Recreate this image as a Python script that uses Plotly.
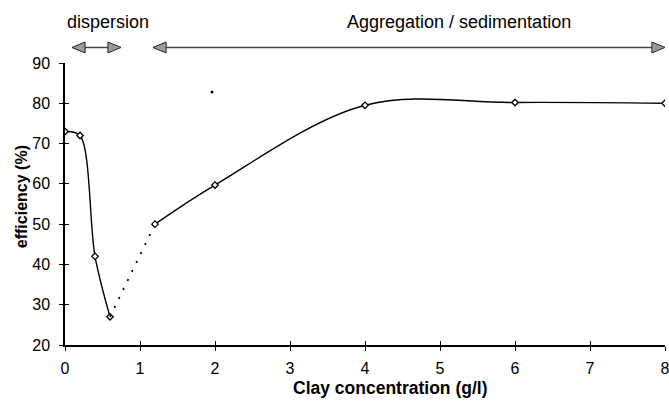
import plotly.graph_objects as go

# Efficiency vs clay concentration
x_dispersion = [0, 0.2, 0.4, 0.6]
y_dispersion = [73, 72, 42, 27]

x_transition = [0.6, 1.2]
y_transition = [27, 50]

x_aggregation = [1.2, 2, 4, 6, 8]
y_aggregation = [50, 59.7, 79.5, 80.2, 80]

x_isolated = [1.96]
y_isolated = [82.8]

x_ticks = [0, 1, 2, 3, 4, 5, 6, 7, 8]
y_ticks = [20, 30, 40, 50, 60, 70, 80, 90]

FONT = "Liberation Sans, Arial, sans-serif"
marker_style = dict(symbol="diamond", size=5, color="white",
                    line=dict(color="black", width=1.3))

fig = go.Figure()
fig.add_trace(go.Scatter(
    x=x_dispersion, y=y_dispersion, mode="lines+markers",
    line=dict(color="black", width=1.4, shape="spline", smoothing=0.9),
    marker=marker_style, showlegend=False))
fig.add_trace(go.Scatter(
    x=x_transition, y=y_transition, mode="lines",
    line=dict(color="black", width=1.8, dash="2px,8px"), showlegend=False))
fig.add_trace(go.Scatter(
    x=x_aggregation, y=y_aggregation, mode="lines+markers",
    line=dict(color="black", width=1.4, shape="spline", smoothing=1.0),
    marker=marker_style, showlegend=False))
fig.add_trace(go.Scatter(
    x=x_isolated, y=y_isolated, mode="markers",
    marker=dict(symbol="circle", size=3, color="black"), showlegend=False))
# invisible trace anchoring the overlay axes used for inward tick marks
fig.add_trace(go.Scatter(x=[0], y=[20], xaxis="x2", yaxis="y2",
                         mode="markers", marker=dict(opacity=0),
                         showlegend=False, hoverinfo="skip"))

axis_common = dict(showgrid=False, zeroline=False, showline=True,
                   linecolor="black", linewidth=1.5, ticks="outside",
                   ticklen=4, tickwidth=1.3, tickcolor="black",
                   ticklabeloverflow="allow", automargin=False,
                   tickfont=dict(family=FONT, size=16, color="black"))
overlay_common = dict(showgrid=False, zeroline=False, showline=False,
                      ticks="inside", ticklen=4, tickwidth=1.3,
                      tickcolor="black", showticklabels=False,
                      automargin=False)

fig.update_layout(
    width=669, height=410,
    margin=dict(l=65, r=4, t=63, b=65),
    paper_bgcolor="white", plot_bgcolor="white",
    xaxis=dict(range=[0, 8], tickvals=x_ticks, ticklabelstandoff=4,
               **axis_common),
    yaxis=dict(range=[20, 90], tickvals=y_ticks, ticklabelstandoff=6,
               **axis_common),
    xaxis2=dict(range=[0, 8], tickvals=x_ticks, overlaying="x", anchor="y2",
                **overlay_common),
    yaxis2=dict(range=[20, 90], tickvals=y_ticks, overlaying="y", anchor="x2",
                **overlay_common),
)

# Regime arrows above the plot (x in data units, y in paper units)
arrow_y = 1.055
head_len = 0.175
head_half = 0.0195


def head(tip, direction):
    base = tip - direction * head_len
    return (f"M {tip},{arrow_y} L {base},{arrow_y + head_half} "
            f"L {base},{arrow_y - head_half} Z")


def double_arrow(x0, x1):
    fig.add_shape(type="line", xref="x", yref="paper",
                  x0=x0 + head_len, x1=x1 - head_len, y0=arrow_y, y1=arrow_y,
                  line=dict(color="#444", width=1.5))
    for tip, d in ((x0, -1), (x1, 1)):
        fig.add_shape(type="path", xref="x", yref="paper", path=head(tip, d),
                      fillcolor="#9a9a9a", line=dict(color="#222", width=1))


double_arrow(0.093, 0.747)
double_arrow(1.173, 8.0)

label_font = dict(family=FONT, size=18, color="black")
fig.add_annotation(x=0.57, y=1.145, xref="x", yref="paper", text="dispersion",
                   xanchor="center", yanchor="middle",
                   showarrow=False, font=label_font)
fig.add_annotation(x=5.25, y=1.145, xref="x", yref="paper",
                   text="Aggregation / sedimentation", showarrow=False,
                   xanchor="center", yanchor="middle", font=label_font)
fig.add_annotation(x=4.33, y=-0.152, xref="x", yref="paper",
                   text="<b>Clay concentration (g/l)</b>", showarrow=False,
                   xanchor="center", yanchor="middle",
                   font=dict(family=FONT, size=17.5, color="black"))
fig.add_annotation(x=-0.072, y=0.527, xref="paper", yref="paper",
                   text="<b>efficiency (%)</b>", textangle=-90,
                   xanchor="center", yanchor="middle", showarrow=False,
                   font=dict(family=FONT, size=16, color="black"))

fig.write_html("out.html")
